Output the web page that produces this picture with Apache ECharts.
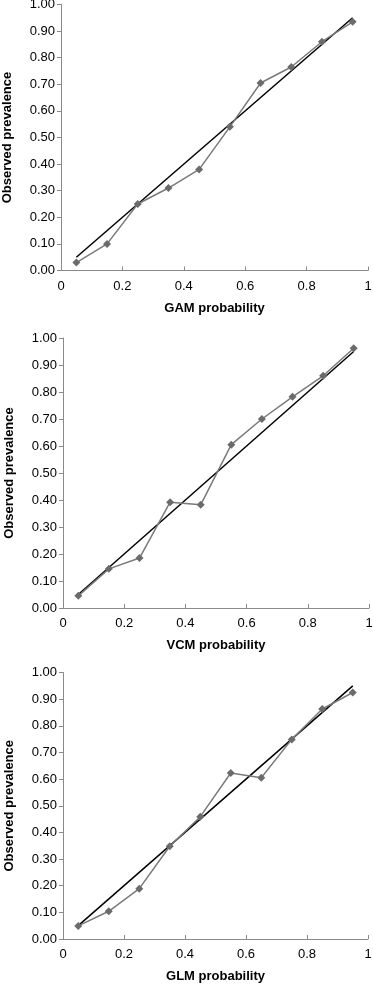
<!DOCTYPE html>
<html>
<head>
<meta charset="utf-8">
<script src="https://cdn.jsdelivr.net/npm/echarts@6/dist/echarts.min.js"></script>
<style>
html,body{margin:0;padding:0;background:#fff;}
#chart{width:373px;height:985px;}
</style>
</head>
<body>
<div id="chart"></div>
<script>
var xBins = [0.05, 0.15, 0.25, 0.35, 0.45, 0.55, 0.65, 0.75, 0.85, 0.95];
var gamObserved = [0.03, 0.10, 0.25, 0.31, 0.38, 0.54, 0.705, 0.765, 0.86, 0.935];
var vcmObserved = [0.045, 0.145, 0.185, 0.392, 0.382, 0.605, 0.70, 0.782, 0.86, 0.962];
var glmObserved = [0.049, 0.104, 0.189, 0.348, 0.459, 0.623, 0.605, 0.749, 0.863, 0.925];
var refLine = [[0.05, 0.05], [0.95, 0.95]];
var xTitles = ['GAM probability', 'VCM probability', 'GLM probability'];
var yTitle = 'Observed prevalence';

var panels = [gamObserved, vcmObserved, glmObserved];
var grids = [
  {left: 61, right: 5, top: 4.5, height: 266, outerBoundsMode: 'none', containLabel: false},
  {left: 63, right: 4, top: 338, height: 270, outerBoundsMode: 'none', containLabel: false},
  {left: 63, right: 5, top: 672.5, height: 266.5, outerBoundsMode: 'none', containLabel: false}
];
var font = '"Liberation Sans", Arial, Helvetica, sans-serif';
var axisColor = '#8a8a8a';

var option = {
  animation: false,
  backgroundColor: '#fff',
  grid: grids,
  xAxis: grids.map(function (g, i) {
    return {
      type: 'value', gridIndex: i, min: 0, max: 1, interval: 0.2,
      name: xTitles[i], nameLocation: 'middle', nameGap: 31,
      nameTextStyle: {fontFamily: font, fontSize: 13, fontWeight: 'bold', color: '#000'},
      axisLine: {show: true, lineStyle: {color: axisColor, width: 1}},
      axisTick: {show: true, inside: true, length: 4, lineStyle: {color: axisColor}},
      axisLabel: {fontFamily: font, fontSize: 13, color: '#000', margin: 9,
        formatter: function (v) { return (v === 0 || v === 1) ? String(v) : v.toFixed(1); }},
      splitLine: {show: false}
    };
  }),
  yAxis: grids.map(function (g, i) {
    return {
      type: 'value', gridIndex: i, min: 0, max: 1, interval: 0.1,
      name: yTitle, nameLocation: 'middle', nameGap: 47, nameRotate: 90,
      nameTextStyle: {fontFamily: font, fontSize: 13, fontWeight: 'bold', color: '#000'},
      axisLine: {show: true, lineStyle: {color: axisColor, width: 1}},
      axisTick: {show: true, inside: false, length: 4, lineStyle: {color: axisColor}},
      axisLabel: {fontFamily: font, fontSize: 13, color: '#000', margin: 6,
        formatter: function (v) { return v.toFixed(2); }},
      splitLine: {show: false}
    };
  }),
  series: []
};

panels.forEach(function (vals, i) {
  option.series.push({
    type: 'line', xAxisIndex: i, yAxisIndex: i,
    data: refLine, symbol: 'none',
    lineStyle: {color: '#000', width: 1.5}, z: 2
  });
  option.series.push({
    type: 'line', xAxisIndex: i, yAxisIndex: i,
    data: xBins.map(function (x, k) { return [x, vals[k]]; }),
    symbol: 'diamond', symbolSize: 8,
    itemStyle: {color: '#6b6b6b'},
    lineStyle: {color: '#7a7a7a', width: 1.5}, z: 3
  });
});

var chart = echarts.init(document.getElementById('chart'), null, {renderer: 'canvas'});
chart.setOption(option);
</script>
</body>
</html>
